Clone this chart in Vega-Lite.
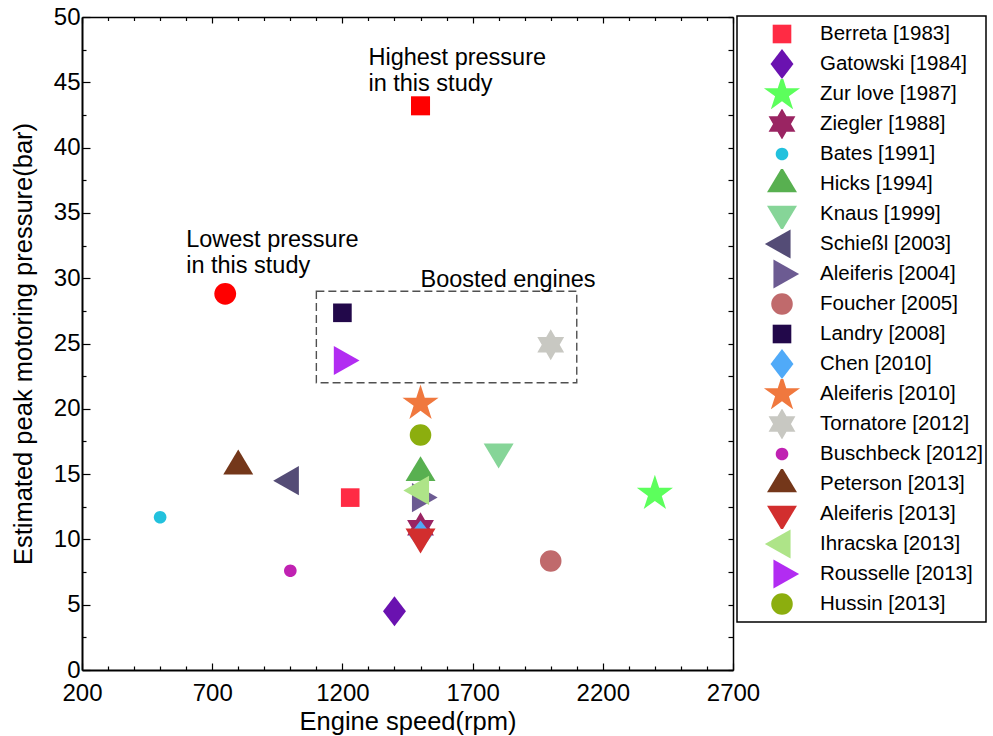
{
  "$schema": "https://vega.github.io/schema/vega-lite/v6.json",
  "width": 651,
  "height": 653,
  "autosize": {"type": "none"},
  "padding": {"left": 82, "top": 17, "right": 260, "bottom": 66},
  "background": "white",
  "config": {
    "view": {"stroke": null},
    "font": "Liberation Sans",
    "axis": {"grid": false, "domainColor": "black", "tickColor": "black", "labelColor": "black", "titleColor": "black", "labelFont": "Liberation Sans", "titleFont": "Liberation Sans", "titleFontWeight": "normal"}
  },
  "resolve": {"axis": {"x": "independent", "y": "independent"}},
  "layer": [
    {
      "data": {"values": [
        {"series": "Berreta [1983]", "rpm": 1230, "pressure": 13.2},
        {"series": "Gatowski [1984]", "rpm": 1400, "pressure": 4.5},
        {"series": "Zur love [1987]", "rpm": 2400, "pressure": 13.5},
        {"series": "Ziegler [1988]", "rpm": 1500, "pressure": 10.9},
        {"series": "Bates [1991]", "rpm": 500, "pressure": 11.7},
        {"series": "Hicks [1994]", "rpm": 1500, "pressure": 15.1},
        {"series": "Knaus [1999]", "rpm": 1800, "pressure": 16.7},
        {"series": "Schießl [2003]", "rpm": 1000, "pressure": 14.5},
        {"series": "Aleiferis [2004]", "rpm": 1500, "pressure": 13.2},
        {"series": "Foucher [2005]", "rpm": 2000, "pressure": 8.35},
        {"series": "Landry [2008]", "rpm": 1200, "pressure": 27.35},
        {"series": "Chen [2010]", "rpm": 1500, "pressure": 10.3},
        {"series": "Aleiferis [2010]", "rpm": 1500, "pressure": 20.4},
        {"series": "Tornatore [2012]", "rpm": 2000, "pressure": 24.9},
        {"series": "Buschbeck [2012]", "rpm": 1000, "pressure": 7.6},
        {"series": "Peterson [2013]", "rpm": 800, "pressure": 15.6},
        {"series": "Aleiferis [2013]", "rpm": 1500, "pressure": 10.2},
        {"series": "Ihracska [2013]", "rpm": 1500, "pressure": 13.75},
        {"series": "Rousselle [2013]", "rpm": 1200, "pressure": 23.7},
        {"series": "Hussin [2013]", "rpm": 1500, "pressure": 18.0}
      ]},
      "mark": {"type": "point", "filled": true, "opacity": 1, "strokeWidth": 0, "size": 784},
      "encoding": {
        "x": {"field": "rpm", "type": "quantitative", "scale": {"domain": [200, 2700], "nice": false, "zero": false},
          "axis": {"orient": "bottom", "values": [200,300,400,500,600,700,800,900,1000,1100,1200,1300,1400,1500,1600,1700,1800,1900,2000,2100,2200,2300,2400,2500,2600,2700],
            "format": "d", "labelExpr": "datum.value % 500 == 200 ? datum.label : ''",
            "tickSize": {"condition": {"test": "datum.value % 500 == 200", "value": -7}, "value": -4},
            "tickWidth": 1.2, "domainWidth": 2, "labelFlush": false, "labelOverlap": false, "labelFontSize": 24, "labelPadding": 18,
            "title": "Engine speed(rpm)", "titleFontSize": 25.5, "titlePadding": 1}},
        "y": {"field": "pressure", "type": "quantitative", "scale": {"domain": [0, 50], "nice": false},
          "axis": {"orient": "left", "values": [0,2.5,5,7.5,10,12.5,15,17.5,20,22.5,25,27.5,30,32.5,35,37.5,40,42.5,45,47.5,50],
            "format": "d", "labelExpr": "datum.value % 5 == 0 ? datum.label : ''",
            "tickSize": {"condition": {"test": "datum.value % 5 == 0", "value": -8}, "value": -4},
            "tickWidth": 1.2, "domainWidth": 2, "labelFlush": false, "labelOverlap": false, "labelFontSize": 24, "labelPadding": 10,
            "title": "Estimated peak motoring pressure(bar)", "titleFontSize": 25.5, "titlePadding": 17}},
        "color": {"field": "series", "type": "nominal",
          "scale": {
            "domain": ["Berreta [1983]","Gatowski [1984]","Zur love [1987]","Ziegler [1988]","Bates [1991]","Hicks [1994]","Knaus [1999]","Schießl [2003]","Aleiferis [2004]","Foucher [2005]","Landry [2008]","Chen [2010]","Aleiferis [2010]","Tornatore [2012]","Buschbeck [2012]","Peterson [2013]","Aleiferis [2013]","Ihracska [2013]","Rousselle [2013]","Hussin [2013]"],
            "range": ["#FF2B44","#6A12B0","#5CFF5C","#9A2462","#22C1DD","#58B050","#86D598","#544C76","#6C5B92","#C06A6C","#22084A","#50AAF8","#F0783E","#C8C8C2","#C022B2","#74371A","#D22E2E","#AEE488","#B22CF2","#8CAE0E"]},
          "legend": {"orient": "none", "legendX": 655, "legendY": -1, "title": null, "strokeColor": "black", "padding": 3,
            "symbolSize": 784, "symbolOffset": 28, "symbolStrokeWidth": 0, "symbolOpacity": 1, "rowPadding": 0, "clipHeight": 30,
            "labelFontSize": 20.5, "labelFont": "Liberation Sans", "labelColor": "black", "labelOffset": 24, "labelLimit": 400,
            "encode": {"legend": {"update": {"strokeWidth": {"value": 1.5}}}}}},
        "shape": {"field": "series", "type": "nominal",
          "scale": {
            "domain": ["Berreta [1983]","Gatowski [1984]","Zur love [1987]","Ziegler [1988]","Bates [1991]","Hicks [1994]","Knaus [1999]","Schießl [2003]","Aleiferis [2004]","Foucher [2005]","Landry [2008]","Chen [2010]","Aleiferis [2010]","Tornatore [2012]","Buschbeck [2012]","Peterson [2013]","Aleiferis [2013]","Ihracska [2013]","Rousselle [2013]","Hussin [2013]"],
            "range": [
              "M-0.665,-0.665L0.665,-0.665L0.665,0.665L-0.665,0.665Z",
              "M0,-1.07L0.82,0L0,1.07L-0.82,0Z",
              "M0,-1.357L0.304,-0.419L1.291,-0.419L0.493,0.16L0.798,1.098L0,0.518L-0.798,1.098L-0.493,0.16L-1.291,-0.419L-0.304,-0.419Z",
              "M0,-1.107L0.32,-0.554L0.959,-0.554L0.639,0L0.959,0.554L0.32,0.554L0,1.107L-0.32,0.554L-0.959,0.554L-0.639,0L-0.959,-0.554L-0.32,-0.554Z",
              "M0.45,0A0.45,0.45,0,1,1,-0.45,0A0.45,0.45,0,1,1,0.45,0Z",
              "M0,-1.19L1.07,0.595L-1.07,0.595Z",
              "M0,1.19L1.07,-0.595L-1.07,-0.595Z",
              "M-1.224,0L0.612,-1.04L0.612,1.04Z",
              "M1.224,0L-0.612,-1.04L-0.612,1.04Z",
              "M0.77,0A0.77,0.77,0,1,1,-0.77,0A0.77,0.77,0,1,1,0.77,0Z",
              "M-0.665,-0.665L0.665,-0.665L0.665,0.665L-0.665,0.665Z",
              "M0,-1.07L0.82,0L0,1.07L-0.82,0Z",
              "M0,-1.357L0.304,-0.419L1.291,-0.419L0.493,0.16L0.798,1.098L0,0.518L-0.798,1.098L-0.493,0.16L-1.291,-0.419L-0.304,-0.419Z",
              "M0,-1.107L0.32,-0.554L0.959,-0.554L0.639,0L0.959,0.554L0.32,0.554L0,1.107L-0.32,0.554L-0.959,0.554L-0.639,0L-0.959,-0.554L-0.32,-0.554Z",
              "M0.45,0A0.45,0.45,0,1,1,-0.45,0A0.45,0.45,0,1,1,0.45,0Z",
              "M0,-1.19L1.07,0.595L-1.07,0.595Z",
              "M0,1.19L1.07,-0.595L-1.07,-0.595Z",
              "M-1.224,0L0.612,-1.04L0.612,1.04Z",
              "M1.224,0L-0.612,-1.04L-0.612,1.04Z",
              "M0.77,0A0.77,0.77,0,1,1,-0.77,0A0.77,0.77,0,1,1,0.77,0Z"
            ]},
          "legend": {"orient": "none", "legendX": 655, "legendY": -1, "title": null}}
      }
    },
    {
      "data": {"values": [{"x1": 1100, "x2": 2100, "y1": 22, "y2": 29}]},
      "mark": {"type": "rect", "fill": null, "fillOpacity": 0, "stroke": "#505050", "strokeWidth": 1.4, "strokeDash": [8, 4]},
      "encoding": {
        "x": {"field": "x1", "type": "quantitative",
          "axis": {"orient": "top", "values": [200,300,400,500,600,700,800,900,1000,1100,1200,1300,1400,1500,1600,1700,1800,1900,2000,2100,2200,2300,2400,2500,2600,2700],
            "labels": false, "title": null, "domainWidth": 1.5, "tickWidth": 1.2,
            "tickSize": {"condition": {"test": "datum.value % 500 == 200", "value": -6}, "value": -3.5}}},
        "x2": {"field": "x2"},
        "y": {"field": "y1", "type": "quantitative",
          "axis": {"orient": "right", "values": [0,2.5,5,7.5,10,12.5,15,17.5,20,22.5,25,27.5,30,32.5,35,37.5,40,42.5,45,47.5,50],
            "labels": false, "title": null, "domainWidth": 1.5, "tickWidth": 1.2, "tickSize": -5}},
        "y2": {"field": "y2"}
      }
    },
    {
      "data": {"values": [{"rpm": 750, "pressure": 28.8}]},
      "mark": {"type": "point", "filled": true, "opacity": 1, "strokeWidth": 0, "size": 784, "color": "#FF0000",
        "shape": "M0.78,0A0.78,0.78,0,1,1,-0.78,0A0.78,0.78,0,1,1,0.78,0Z"},
      "encoding": {
        "x": {"field": "rpm", "type": "quantitative", "axis": null},
        "y": {"field": "pressure", "type": "quantitative", "axis": null}
      }
    },
    {
      "data": {"values": [{"rpm": 1500, "pressure": 43.2}]},
      "mark": {"type": "point", "filled": true, "opacity": 1, "strokeWidth": 0, "size": 784, "color": "#FF0000",
        "shape": "M-0.68,-0.68L0.68,-0.68L0.68,0.68L-0.68,0.68Z"},
      "encoding": {
        "x": {"field": "rpm", "type": "quantitative", "axis": null},
        "y": {"field": "pressure", "type": "quantitative", "axis": null}
      }
    },
    {
      "data": {"values": [
        {"rpm": 1300, "pressure": 46.3, "note": "Highest pressure\nin this study"},
        {"rpm": 600, "pressure": 32.4, "note": "Lowest pressure\nin this study"},
        {"rpm": 1500, "pressure": 29.35, "note": "Boosted engines"}
      ]},
      "mark": {"type": "text", "align": "left", "baseline": "alphabetic", "fontSize": 23.5, "font": "Liberation Sans", "color": "black", "lineBreak": "\n", "lineHeight": 25.7},
      "encoding": {
        "x": {"field": "rpm", "type": "quantitative", "axis": null},
        "y": {"field": "pressure", "type": "quantitative", "axis": null},
        "text": {"field": "note"}
      }
    }
  ]
}
